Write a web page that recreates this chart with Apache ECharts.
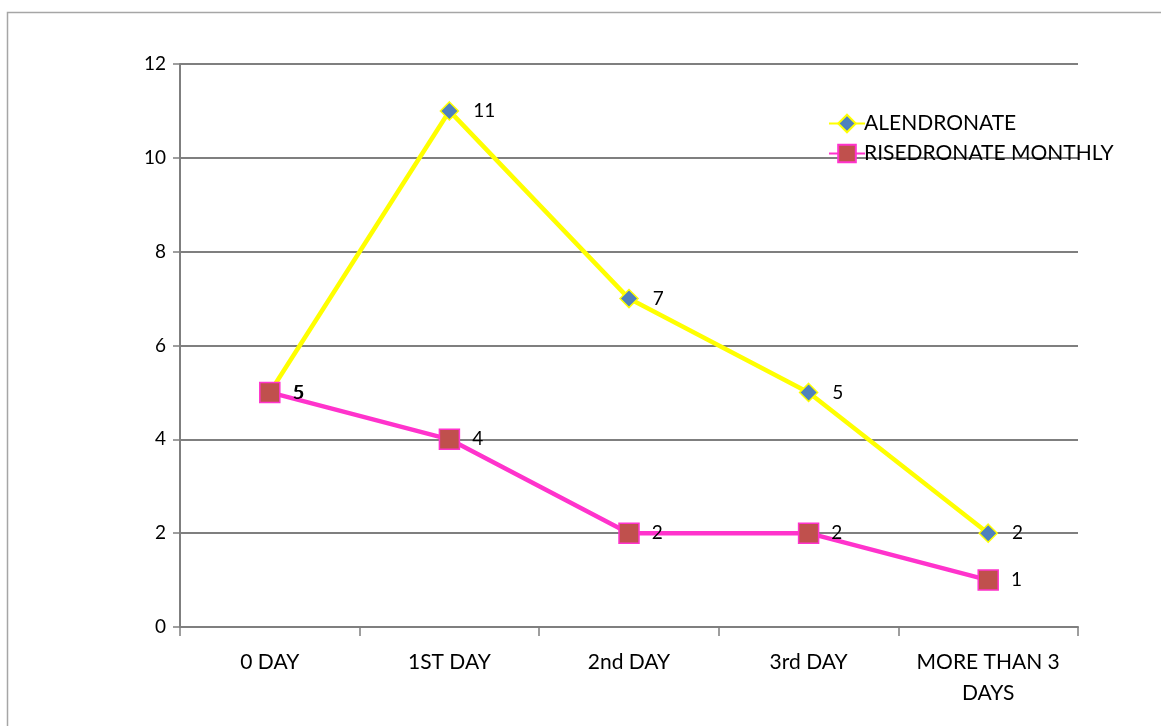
<!DOCTYPE html>
<html>
<head>
<meta charset="utf-8">
<script src="https://cdn.jsdelivr.net/npm/echarts@6/dist/echarts.min.js"></script>
<style>
  html, body { margin: 0; padding: 0; background: #fff; }
  #chart { width: 1161px; height: 726px; }
</style>
</head>
<body>
<div id="chart"></div>
<script>
// Days until symptom onset, by treatment group
const categories = ['0 DAY', '1ST DAY', '2nd DAY', '3rd DAY', 'MORE THAN 3\nDAYS'];
const alendronate = [5, 11, 7, 5, 2];
const risedronateMonthly = [5, 4, 2, 2, 1];
const yTicks = { min: 0, max: 12, interval: 2 };

const fontFamily = 'Lato, "Open Sans", sans-serif';

const chart = echarts.init(document.getElementById('chart'), null, { renderer: 'canvas' });

chart.setOption({
  animation: false,
  backgroundColor: '#fff',
  textStyle: { fontFamily: fontFamily },
  graphic: [{
    type: 'rect',
    z: -10,
    shape: { x: 7.5, y: 12.5, width: 1200, height: 800 },
    style: { fill: 'none', stroke: '#a6a6a6', lineWidth: 1.5 }
  }],
  grid: { left: 180, right: 83, top: 64, bottom: 99, containLabel: false },
  legend: {
    orient: 'vertical',
    left: 823,
    top: 108,
    itemGap: 9,
    itemWidth: 36,
    itemHeight: 22,
    textStyle: { fontSize: 21, color: '#000', fontFamily: fontFamily, padding: [0, 0, 0, -6] },
    data: ['ALENDRONATE', 'RISEDRONATE MONTHLY']
  },
  xAxis: {
    type: 'category',
    data: categories,
    boundaryGap: true,
    axisLine: { lineStyle: { color: '#7f7f7f', width: 2 } },
    axisTick: { show: true, interval: 0, length: 9, lineStyle: { color: '#7f7f7f', width: 1.5 } },
    axisLabel: {
      interval: 0, hideOverlap: false,
      color: '#000', fontSize: 21, margin: 20, lineHeight: 31, fontFamily: fontFamily
    }
  },
  yAxis: {
    type: 'value',
    min: yTicks.min,
    max: yTicks.max,
    interval: yTicks.interval,
    axisLine: { show: true, lineStyle: { color: '#7f7f7f', width: 2 } },
    axisTick: { show: true, length: 7, lineStyle: { color: '#7f7f7f', width: 1.5 } },
    axisLabel: { color: '#000', fontSize: 19, margin: 14, fontFamily: fontFamily },
    splitLine: { show: true, lineStyle: { color: '#7f7f7f', width: 2 } }
  },
  series: [
    {
      name: 'ALENDRONATE',
      type: 'line',
      data: alendronate,
      symbol: 'diamond',
      symbolSize: 18,
      lineStyle: { color: '#ffff00', width: 4.5 },
      itemStyle: { color: '#4f81bd', borderColor: '#ffff00', borderWidth: 1.5 },
      label: {
        show: true, position: 'right', distance: 14,
        color: '#000', fontSize: 19, fontFamily: fontFamily
      },
      z: 3
    },
    {
      name: 'RISEDRONATE MONTHLY',
      type: 'line',
      data: risedronateMonthly,
      symbol: 'rect',
      symbolSize: 20,
      lineStyle: { color: '#ff33cc', width: 4.5 },
      itemStyle: { color: '#c0504d', borderColor: '#ff33cc', borderWidth: 1.5 },
      label: {
        show: true, position: 'right', distance: 12,
        color: '#000', fontSize: 19, fontFamily: fontFamily
      },
      z: 4
    }
  ]
});
</script>
</body>
</html>
